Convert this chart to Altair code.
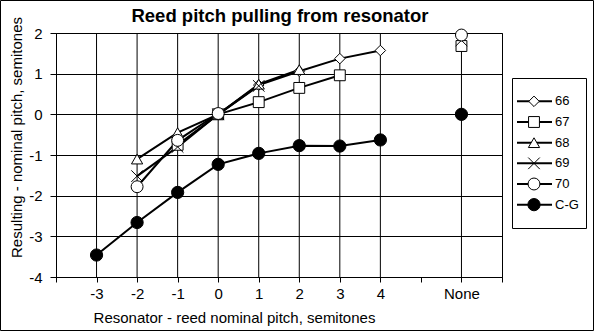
import altair as alt
import pandas as pd

# ---- data ----
resonator_offsets = [-3, -2, -1, 0, 1, 2, 3, 4]
series_names = ["66", "67", "68", "69", "70", "C-G"]
pitch_66 = [None, None, None, 0.0, 0.72, 1.06, 1.37, 1.57]
pitch_67 = [None, None, -0.75, 0.0, 0.30, 0.65, 0.96, None]
pitch_68 = [None, -1.10, -0.45, 0.0, 0.74, 1.10, None, None]
pitch_69 = [None, -1.52, -0.80, 0.0, 0.70, None, None, None]
pitch_70 = [None, -1.78, -0.64, 0.02, None, None, None, None]
pitch_cg = [-3.46, -2.66, -1.92, -1.23, -0.96, -0.77, -0.78, -0.63]
# values at the "None" category (no resonator)
none_values = [None, 1.68, None, 1.82, 1.95, 0.0]
none_label = "None"
none_slot = 6  # category slot of "None" on the axis
x_tick_slots = [-4, -3, -2, -1, 0, 1, 2, 3, 4, 5, 6, 7]
x_grid_slots = [-3, -2, -1, 0, 1, 2, 3, 4, 6]
y_ticks = [-4, -3, -2, -1, 0, 1, 2]

shapes = ["diamond", "square", "triangle-up", "M-1,-1L1,1M-1,1L1,-1", "circle", "circle"]
fills = ["white", "white", "white", "white", "white", "black"]
sizes = [110, 150, 120, 100, 130, 150]

all_series = [pitch_66, pitch_67, pitch_68, pitch_69, pitch_70, pitch_cg]

rows = []
for name, vals, nv in zip(series_names, all_series, none_values):
    for x, v in zip(resonator_offsets, vals):
        if v is not None:
            rows.append({"series": name, "x": x, "y": v, "kind": "curve"})
    if nv is not None:
        rows.append({"series": name, "x": none_slot, "y": nv, "kind": "none"})
df = pd.DataFrame(rows)

FONT = "Liberation Sans"

shape_scale = alt.Scale(domain=series_names, range=shapes)
fill_scale = alt.Scale(domain=series_names, range=fills)
size_scale = alt.Scale(domain=series_names, range=sizes)
x_scale = alt.Scale(domain=[-4, 7], nice=False, zero=False)
y_scale = alt.Scale(domain=[-4, 2], nice=False, zero=False)

x_enc = alt.X(
    "x:Q",
    scale=x_scale,
    axis=alt.Axis(
        values=x_tick_slots,
        labelExpr=f"datum.value == {none_slot} ? '{none_label}' : (datum.value >= -3 && datum.value <= 4 ? '' + datum.value : '')",
        grid=False,
        tickSize=5,
        tickColor="black",
        domainColor="black",
        labelPadding=4,
        labelFont=FONT,
        labelFontSize=15,
        labelColor="black",
        title="Resonator - reed nominal pitch, semitones",
        titleFont=FONT,
        titleFontSize=15,
        titleFontWeight="normal",
        titleColor="black",
        titleX=178,
        titleY=45,
        titleBaseline="alphabetic",
        titleAlign="center",
    ),
)
y_enc = alt.Y(
    "y:Q",
    scale=y_scale,
    axis=alt.Axis(
        values=y_ticks,
        labelExpr="'' + datum.value",
        grid=True,
        gridColor="black",
        gridOpacity=1,
        tickSize=6,
        tickColor="black",
        domainColor="black",
        labelPadding=8,
        labelFont=FONT,
        labelFontSize=15,
        labelColor="black",
        title="Resulting - nominal pitch, semitones",
        titleFont=FONT,
        titleFontSize=15,
        titleFontWeight="normal",
        titleColor="black",
        titleX=-40,
        titleY=104,
        titleAngle=270,
        titleAlign="center",
        titleBaseline="middle",
    ),
)

frame_df = pd.DataFrame({"k": [0]})
outer_border = alt.Chart(frame_df).mark_rect(
    fillOpacity=0, stroke="black", strokeWidth=1
).encode(
    x=alt.value(-55.5), x2=alt.value(537.5), y=alt.value(-32.5), y2=alt.value(297.5)
)

grid_df = pd.DataFrame({"x": x_grid_slots})
vgrid = alt.Chart(grid_df).mark_rule(color="black", strokeWidth=1).encode(
    x=alt.X("x:Q", scale=x_scale)
)

base = alt.Chart(df)
lines = base.transform_filter("datum.kind == 'curve'").mark_line(
    color="black", strokeWidth=2
).encode(x=x_enc, y=y_enc, detail="series:N", order="x:Q")

points = base.mark_point(filled=True, stroke="black", strokeWidth=1, opacity=1).encode(
    x=alt.X("x:Q", scale=x_scale),
    y=alt.Y("y:Q", scale=y_scale),
    shape=alt.Shape("series:N", scale=shape_scale, legend=None),
    fill=alt.Fill("series:N", scale=fill_scale, legend=None),
    size=alt.Size("series:N", scale=size_scale, legend=None),
)

main = alt.layer(outer_border, vgrid, lines, points)

# ---- legend (own y scale, placed right of the plot) ----
leg_df = pd.DataFrame({"series": series_names})
leg_y = alt.Y("series:N", scale=alt.Scale(domain=series_names, range=[58, 182], padding=0), axis=None)
leg_base = alt.Chart(leg_df).encode(y=leg_y)
leg_rule = leg_base.mark_rule(color="black", strokeWidth=2).encode(x=alt.value(461), x2=alt.value(496))
leg_pts = leg_base.mark_point(filled=True, stroke="black", strokeWidth=1, opacity=1).encode(
    x=alt.value(478),
    shape=alt.Shape("series:N", scale=shape_scale, legend=None),
    fill=alt.Fill("series:N", scale=fill_scale, legend=None),
    size=alt.Size("series:N", scale=size_scale, legend=None),
)
leg_txt = leg_base.mark_text(align="left", baseline="middle", font=FONT, fontSize=13, color="black").encode(
    x=alt.value(499), text="series:N"
)
leg_box = alt.Chart(frame_df).mark_rect(fillOpacity=0, stroke="black", strokeWidth=1).encode(
    x=alt.value(456.5), x2=alt.value(530.5), y=alt.value(45.5), y2=alt.value(195.5)
)
legend_layer = alt.layer(leg_box, leg_rule, leg_pts, leg_txt)

chart = alt.layer(main, legend_layer).resolve_scale(y="independent").properties(
    width=446,
    height=244,
    title=alt.TitleParams(
        text="Reed pitch pulling from resonator",
        font=FONT,
        fontSize=18.5,
        fontWeight="bold",
        color="black",
        anchor="middle",
        frame="group",
        dx=1,
        offset=-25,
    ),
    padding={"left": 56, "top": 33, "right": 93, "bottom": 55},
    autosize=alt.AutoSizeParams(type="none"),
    background="white",
).configure_view(stroke="black", strokeWidth=1)

chart.save("out.html", embed_options={"renderer": "svg", "actions": False})
